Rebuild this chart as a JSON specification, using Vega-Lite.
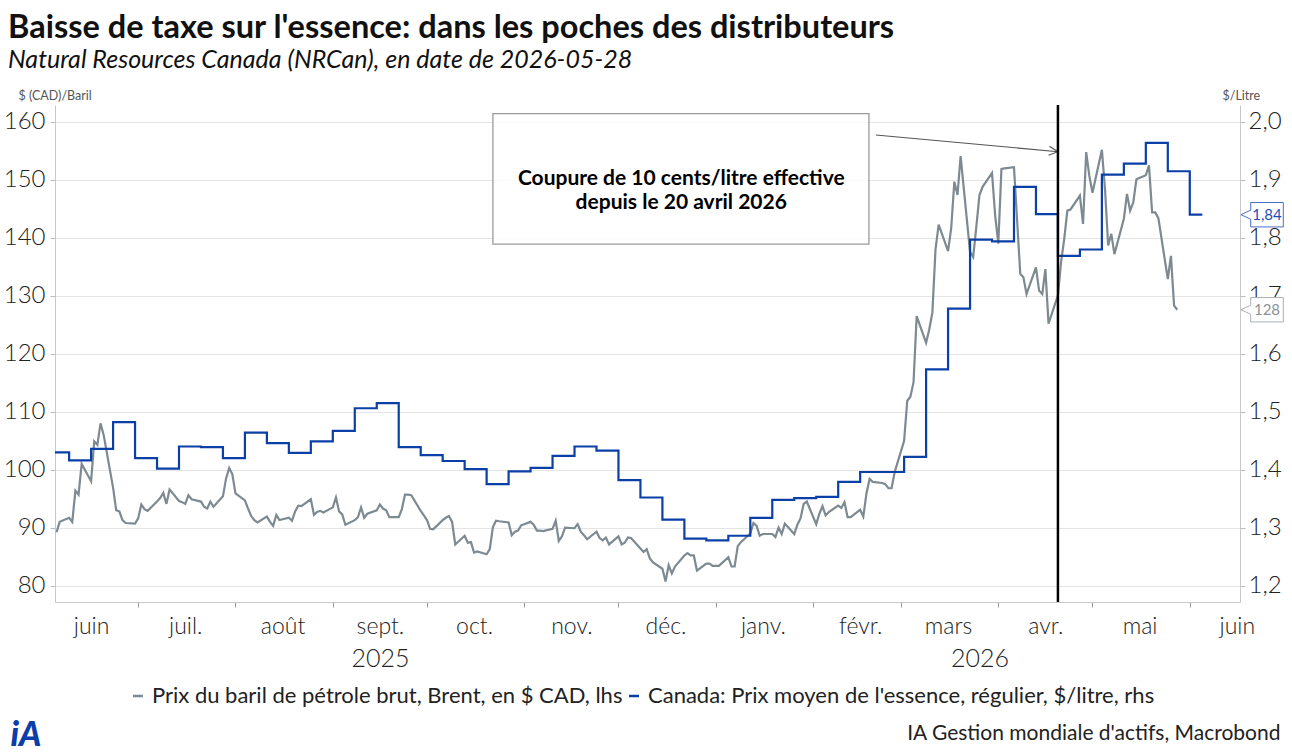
{
  "$schema": "https://vega.github.io/schema/vega-lite/v6.json",
  "width": 1185,
  "height": 497,
  "autosize": {"type": "none"},
  "padding": {"left": 55, "top": 105, "right": 52, "bottom": 153},
  "background": "white",
  "title": {
    "text": "Baisse de taxe sur l'essence: dans les poches des distributeurs",
    "subtitle": "Natural Resources Canada (NRCan), en date de 2026-05-28",
    "anchor": "start",
    "frame": "group",
    "dx": -47,
    "offset": 16,
    "font": "Lato",
    "fontSize": 32.5,
    "fontWeight": "bold",
    "color": "#111111",
    "subtitleFont": "Lato",
    "subtitleFontSize": 25,
    "subtitleFontStyle": "italic",
    "subtitleColor": "#111111",
    "subtitlePadding": 4
  },
  "datasets": {
    "brent": [
      {"date": "2025-06-05", "brent": 89.2}, {"date": "2025-06-06", "brent": 91.0}, {"date": "2025-06-09", "brent": 91.7},
      {"date": "2025-06-10", "brent": 91.0}, {"date": "2025-06-11", "brent": 96.4}, {"date": "2025-06-12", "brent": 95.7},
      {"date": "2025-06-13", "brent": 101.0}, {"date": "2025-06-16", "brent": 98.0}, {"date": "2025-06-17", "brent": 104.9},
      {"date": "2025-06-18", "brent": 104.3}, {"date": "2025-06-19", "brent": 108.0}, {"date": "2025-06-20", "brent": 106.0},
      {"date": "2025-06-23", "brent": 96.9}, {"date": "2025-06-24", "brent": 93.0}, {"date": "2025-06-25", "brent": 92.8},
      {"date": "2025-06-26", "brent": 91.3}, {"date": "2025-06-27", "brent": 90.8}, {"date": "2025-06-30", "brent": 90.7},
      {"date": "2025-07-01", "brent": 91.6}, {"date": "2025-07-02", "brent": 94.0}, {"date": "2025-07-03", "brent": 93.2},
      {"date": "2025-07-04", "brent": 92.9}, {"date": "2025-07-07", "brent": 94.5}, {"date": "2025-07-08", "brent": 95.1},
      {"date": "2025-07-09", "brent": 96.0}, {"date": "2025-07-10", "brent": 94.1}, {"date": "2025-07-11", "brent": 96.6},
      {"date": "2025-07-14", "brent": 94.6}, {"date": "2025-07-15", "brent": 94.4}, {"date": "2025-07-16", "brent": 94.1},
      {"date": "2025-07-17", "brent": 95.6}, {"date": "2025-07-18", "brent": 94.9}, {"date": "2025-07-21", "brent": 94.5},
      {"date": "2025-07-22", "brent": 93.6}, {"date": "2025-07-23", "brent": 93.3}, {"date": "2025-07-24", "brent": 94.5},
      {"date": "2025-07-25", "brent": 93.6}, {"date": "2025-07-28", "brent": 95.4}, {"date": "2025-07-29", "brent": 98.5},
      {"date": "2025-07-30", "brent": 100.3}, {"date": "2025-07-31", "brent": 99.2}, {"date": "2025-08-01", "brent": 95.9},
      {"date": "2025-08-04", "brent": 94.7}, {"date": "2025-08-05", "brent": 93.3}, {"date": "2025-08-06", "brent": 92.0},
      {"date": "2025-08-07", "brent": 91.3}, {"date": "2025-08-08", "brent": 90.9}, {"date": "2025-08-11", "brent": 91.9},
      {"date": "2025-08-12", "brent": 91.0}, {"date": "2025-08-13", "brent": 90.3}, {"date": "2025-08-14", "brent": 92.2},
      {"date": "2025-08-15", "brent": 91.3}, {"date": "2025-08-18", "brent": 91.7}, {"date": "2025-08-19", "brent": 91.2},
      {"date": "2025-08-20", "brent": 92.8}, {"date": "2025-08-21", "brent": 93.8}, {"date": "2025-08-22", "brent": 93.7},
      {"date": "2025-08-25", "brent": 94.9}, {"date": "2025-08-26", "brent": 92.2}, {"date": "2025-08-27", "brent": 92.7},
      {"date": "2025-08-28", "brent": 92.9}, {"date": "2025-08-29", "brent": 92.6}, {"date": "2025-09-01", "brent": 93.5},
      {"date": "2025-09-02", "brent": 95.2}, {"date": "2025-09-03", "brent": 92.8}, {"date": "2025-09-04", "brent": 92.3},
      {"date": "2025-09-05", "brent": 90.5}, {"date": "2025-09-08", "brent": 91.3}, {"date": "2025-09-09", "brent": 91.8},
      {"date": "2025-09-10", "brent": 93.5}, {"date": "2025-09-11", "brent": 91.7}, {"date": "2025-09-12", "brent": 92.4},
      {"date": "2025-09-15", "brent": 93.0}, {"date": "2025-09-16", "brent": 94.0}, {"date": "2025-09-17", "brent": 93.3},
      {"date": "2025-09-18", "brent": 93.0}, {"date": "2025-09-19", "brent": 91.8}, {"date": "2025-09-22", "brent": 91.8},
      {"date": "2025-09-23", "brent": 93.2}, {"date": "2025-09-24", "brent": 95.7}, {"date": "2025-09-25", "brent": 95.7},
      {"date": "2025-09-26", "brent": 95.6}, {"date": "2025-09-29", "brent": 92.9}, {"date": "2025-09-30", "brent": 92.1},
      {"date": "2025-10-01", "brent": 91.3}, {"date": "2025-10-02", "brent": 89.8}, {"date": "2025-10-03", "brent": 89.7},
      {"date": "2025-10-06", "brent": 91.3}, {"date": "2025-10-07", "brent": 91.7}, {"date": "2025-10-08", "brent": 92.0},
      {"date": "2025-10-09", "brent": 91.0}, {"date": "2025-10-10", "brent": 87.1}, {"date": "2025-10-13", "brent": 88.6},
      {"date": "2025-10-14", "brent": 87.4}, {"date": "2025-10-15", "brent": 87.5}, {"date": "2025-10-16", "brent": 85.7},
      {"date": "2025-10-17", "brent": 85.9}, {"date": "2025-10-20", "brent": 85.4}, {"date": "2025-10-21", "brent": 86.3},
      {"date": "2025-10-22", "brent": 90.1}, {"date": "2025-10-23", "brent": 91.2}, {"date": "2025-10-24", "brent": 91.1},
      {"date": "2025-10-27", "brent": 90.9}, {"date": "2025-10-28", "brent": 88.7}, {"date": "2025-10-29", "brent": 89.3},
      {"date": "2025-10-30", "brent": 89.5}, {"date": "2025-10-31", "brent": 90.4}, {"date": "2025-11-03", "brent": 91.0},
      {"date": "2025-11-04", "brent": 90.5}, {"date": "2025-11-05", "brent": 89.5}, {"date": "2025-11-06", "brent": 89.5},
      {"date": "2025-11-07", "brent": 89.4}, {"date": "2025-11-10", "brent": 89.8}, {"date": "2025-11-11", "brent": 91.2},
      {"date": "2025-11-12", "brent": 87.7}, {"date": "2025-11-13", "brent": 88.5}, {"date": "2025-11-14", "brent": 90.0},
      {"date": "2025-11-17", "brent": 89.9}, {"date": "2025-11-18", "brent": 90.6}, {"date": "2025-11-19", "brent": 89.3},
      {"date": "2025-11-20", "brent": 88.7}, {"date": "2025-11-21", "brent": 88.0}, {"date": "2025-11-24", "brent": 89.3},
      {"date": "2025-11-25", "brent": 88.2}, {"date": "2025-11-26", "brent": 87.8}, {"date": "2025-11-27", "brent": 88.3},
      {"date": "2025-11-28", "brent": 87.1}, {"date": "2025-12-01", "brent": 88.5}, {"date": "2025-12-02", "brent": 87.1},
      {"date": "2025-12-03", "brent": 87.4}, {"date": "2025-12-04", "brent": 88.3}, {"date": "2025-12-05", "brent": 88.2},
      {"date": "2025-12-08", "brent": 86.4}, {"date": "2025-12-09", "brent": 85.8}, {"date": "2025-12-10", "brent": 86.3},
      {"date": "2025-12-11", "brent": 84.7}, {"date": "2025-12-12", "brent": 84.0}, {"date": "2025-12-15", "brent": 82.9},
      {"date": "2025-12-16", "brent": 80.7}, {"date": "2025-12-17", "brent": 83.5}, {"date": "2025-12-18", "brent": 82.1},
      {"date": "2025-12-19", "brent": 83.3}, {"date": "2025-12-22", "brent": 85.2}, {"date": "2025-12-23", "brent": 85.6},
      {"date": "2025-12-24", "brent": 85.2}, {"date": "2025-12-25", "brent": 85.2}, {"date": "2025-12-26", "brent": 82.6},
      {"date": "2025-12-29", "brent": 83.8}, {"date": "2025-12-30", "brent": 83.8}, {"date": "2025-12-31", "brent": 83.4},
      {"date": "2026-01-01", "brent": 83.4}, {"date": "2026-01-02", "brent": 83.4}, {"date": "2026-01-05", "brent": 84.9},
      {"date": "2026-01-06", "brent": 83.3}, {"date": "2026-01-07", "brent": 83.3}, {"date": "2026-01-08", "brent": 86.8},
      {"date": "2026-01-09", "brent": 87.5}, {"date": "2026-01-12", "brent": 89.0}, {"date": "2026-01-13", "brent": 90.8},
      {"date": "2026-01-14", "brent": 90.3}, {"date": "2026-01-15", "brent": 88.6}, {"date": "2026-01-16", "brent": 88.9},
      {"date": "2026-01-19", "brent": 88.9}, {"date": "2026-01-20", "brent": 88.4}, {"date": "2026-01-21", "brent": 90.0},
      {"date": "2026-01-22", "brent": 88.9}, {"date": "2026-01-23", "brent": 90.7}, {"date": "2026-01-26", "brent": 88.9},
      {"date": "2026-01-27", "brent": 90.5}, {"date": "2026-01-28", "brent": 91.6}, {"date": "2026-01-29", "brent": 94.1},
      {"date": "2026-01-30", "brent": 94.5}, {"date": "2026-02-02", "brent": 90.6}, {"date": "2026-02-03", "brent": 92.4},
      {"date": "2026-02-04", "brent": 93.7}, {"date": "2026-02-05", "brent": 92.1}, {"date": "2026-02-06", "brent": 92.7},
      {"date": "2026-02-09", "brent": 93.8}, {"date": "2026-02-10", "brent": 93.4}, {"date": "2026-02-11", "brent": 94.4},
      {"date": "2026-02-12", "brent": 91.8}, {"date": "2026-02-13", "brent": 91.8}, {"date": "2026-02-16", "brent": 93.1},
      {"date": "2026-02-17", "brent": 91.9}, {"date": "2026-02-18", "brent": 95.9}, {"date": "2026-02-19", "brent": 98.4},
      {"date": "2026-02-20", "brent": 97.9}, {"date": "2026-02-23", "brent": 97.7}, {"date": "2026-02-24", "brent": 97.5},
      {"date": "2026-02-25", "brent": 96.8}, {"date": "2026-02-26", "brent": 96.8}, {"date": "2026-02-27", "brent": 99.6},
      {"date": "2026-03-02", "brent": 105.0}, {"date": "2026-03-03", "brent": 111.9}, {"date": "2026-03-04", "brent": 112.6},
      {"date": "2026-03-05", "brent": 115.1}, {"date": "2026-03-06", "brent": 126.5}, {"date": "2026-03-09", "brent": 121.9},
      {"date": "2026-03-10", "brent": 124.2}, {"date": "2026-03-11", "brent": 127.1}, {"date": "2026-03-12", "brent": 138.0},
      {"date": "2026-03-13", "brent": 142.3}, {"date": "2026-03-16", "brent": 137.7}, {"date": "2026-03-17", "brent": 141.7},
      {"date": "2026-03-18", "brent": 149.7}, {"date": "2026-03-19", "brent": 147.4}, {"date": "2026-03-20", "brent": 154.1},
      {"date": "2026-03-23", "brent": 137.6}, {"date": "2026-03-24", "brent": 136.7}, {"date": "2026-03-25", "brent": 141.9},
      {"date": "2026-03-26", "brent": 147.4}, {"date": "2026-03-27", "brent": 148.8}, {"date": "2026-03-30", "brent": 151.2},
      {"date": "2026-03-31", "brent": 143.9}, {"date": "2026-04-01", "brent": 139.0}, {"date": "2026-04-02", "brent": 151.9},
      {"date": "2026-04-03", "brent": 152.0}, {"date": "2026-04-06", "brent": 152.2}, {"date": "2026-04-07", "brent": 143.0},
      {"date": "2026-04-08", "brent": 133.8}, {"date": "2026-04-09", "brent": 133.2}, {"date": "2026-04-10", "brent": 130.3},
      {"date": "2026-04-13", "brent": 134.9}, {"date": "2026-04-14", "brent": 130.9}, {"date": "2026-04-15", "brent": 130.3},
      {"date": "2026-04-16", "brent": 134.6}, {"date": "2026-04-17", "brent": 125.2}, {"date": "2026-04-20", "brent": 130.1},
      {"date": "2026-04-21", "brent": 135.8}, {"date": "2026-04-22", "brent": 139.8}, {"date": "2026-04-23", "brent": 144.7},
      {"date": "2026-04-24", "brent": 144.9}, {"date": "2026-04-27", "brent": 147.3}, {"date": "2026-04-28", "brent": 142.4},
      {"date": "2026-04-29", "brent": 154.8}, {"date": "2026-04-30", "brent": 150.7}, {"date": "2026-05-01", "brent": 147.8},
      {"date": "2026-05-04", "brent": 155.2}, {"date": "2026-05-05", "brent": 148.4}, {"date": "2026-05-06", "brent": 138.7},
      {"date": "2026-05-07", "brent": 140.7}, {"date": "2026-05-08", "brent": 137.2}, {"date": "2026-05-11", "brent": 143.3},
      {"date": "2026-05-12", "brent": 147.6}, {"date": "2026-05-13", "brent": 144.7}, {"date": "2026-05-14", "brent": 146.1},
      {"date": "2026-05-15", "brent": 150.1}, {"date": "2026-05-18", "brent": 150.8}, {"date": "2026-05-19", "brent": 152.5},
      {"date": "2026-05-20", "brent": 144.4}, {"date": "2026-05-21", "brent": 144.4}, {"date": "2026-05-22", "brent": 143.4},
      {"date": "2026-05-25", "brent": 132.9}, {"date": "2026-05-26", "brent": 136.9}, {"date": "2026-05-27", "brent": 128.3},
      {"date": "2026-05-28", "brent": 127.6}
    ],
    "essence": [
      {"date": "2025-06-02", "prix": 1.430}, {"date": "2025-06-09", "prix": 1.416}, {"date": "2025-06-16", "prix": 1.436},
      {"date": "2025-06-23", "prix": 1.482}, {"date": "2025-06-30", "prix": 1.420}, {"date": "2025-07-07", "prix": 1.402},
      {"date": "2025-07-14", "prix": 1.440}, {"date": "2025-07-21", "prix": 1.439}, {"date": "2025-07-28", "prix": 1.420},
      {"date": "2025-08-04", "prix": 1.464}, {"date": "2025-08-11", "prix": 1.446}, {"date": "2025-08-18", "prix": 1.429},
      {"date": "2025-08-25", "prix": 1.449}, {"date": "2025-09-01", "prix": 1.467}, {"date": "2025-09-08", "prix": 1.506},
      {"date": "2025-09-15", "prix": 1.515}, {"date": "2025-09-22", "prix": 1.439}, {"date": "2025-09-29", "prix": 1.425},
      {"date": "2025-10-06", "prix": 1.415}, {"date": "2025-10-13", "prix": 1.401}, {"date": "2025-10-20", "prix": 1.375},
      {"date": "2025-10-27", "prix": 1.397}, {"date": "2025-11-03", "prix": 1.403}, {"date": "2025-11-10", "prix": 1.424},
      {"date": "2025-11-17", "prix": 1.440}, {"date": "2025-11-24", "prix": 1.433}, {"date": "2025-12-01", "prix": 1.382},
      {"date": "2025-12-08", "prix": 1.352}, {"date": "2025-12-15", "prix": 1.314}, {"date": "2025-12-22", "prix": 1.281},
      {"date": "2025-12-29", "prix": 1.278}, {"date": "2026-01-05", "prix": 1.286}, {"date": "2026-01-12", "prix": 1.317},
      {"date": "2026-01-19", "prix": 1.348}, {"date": "2026-01-26", "prix": 1.351}, {"date": "2026-02-02", "prix": 1.353},
      {"date": "2026-02-09", "prix": 1.379}, {"date": "2026-02-16", "prix": 1.396}, {"date": "2026-02-23", "prix": 1.396},
      {"date": "2026-03-02", "prix": 1.422}, {"date": "2026-03-09", "prix": 1.573}, {"date": "2026-03-16", "prix": 1.678},
      {"date": "2026-03-23", "prix": 1.797}, {"date": "2026-03-30", "prix": 1.794}, {"date": "2026-04-06", "prix": 1.888},
      {"date": "2026-04-13", "prix": 1.841}, {"date": "2026-04-20", "prix": 1.769}, {"date": "2026-04-27", "prix": 1.780},
      {"date": "2026-05-04", "prix": 1.909}, {"date": "2026-05-11", "prix": 1.928}, {"date": "2026-05-18", "prix": 1.964},
      {"date": "2026-05-25", "prix": 1.915}, {"date": "2026-06-01", "prix": 1.84}, {"date": "2026-06-05", "prix": 1.84}
    ]
  },
  "layer": [
    {
      "layer": [
        {
          "data": {"name": "brent"},
          "mark": {"type": "line", "strokeWidth": 2.2, "clip": true},
          "encoding": {
            "x": {
              "field": "date",
              "type": "temporal",
              "scale": {
                "type": "utc",
                "domain": [
                  {"year": 2025, "month": 6, "date": 4, "hours": 12, "utc": true},
                  {"year": 2026, "month": 6, "date": 17, "utc": true}
                ]
              },
              "axis": {
                "orient": "bottom",
                "values": [
                  {"year": 2025, "month": 6, "date": 16, "utc": true},
                  {"year": 2025, "month": 7, "date": 16, "utc": true},
                  {"year": 2025, "month": 8, "date": 16, "utc": true},
                  {"year": 2025, "month": 9, "date": 16, "utc": true},
                  {"year": 2025, "month": 10, "date": 16, "utc": true},
                  {"year": 2025, "month": 11, "date": 16, "utc": true},
                  {"year": 2025, "month": 12, "date": 16, "utc": true},
                  {"year": 2026, "month": 1, "date": 16, "utc": true},
                  {"year": 2026, "month": 2, "date": 16, "utc": true},
                  {"year": 2026, "month": 3, "date": 16, "utc": true},
                  {"year": 2026, "month": 4, "date": 16, "utc": true},
                  {"year": 2026, "month": 5, "date": 16, "utc": true},
                  {"year": 2026, "month": 6, "date": 16, "utc": true}
                ],
                "format": "%b",
                "labelFontSize": 23,
                "labelFontWeight": 300,
                "labelPadding": 8,
                "labelFlush": false,
                "labelOverlap": false,
                "tickSize": 5,
                "tickOffset": -47.09,
                "labelOffset": 47.09,
                "tickColor": "#999999",
                "tickOpacity": {"condition": {"test": "datum.value < utc(2025, 5, 20)", "value": 0}, "value": 1},
                "domainColor": "#c8c8c8",
                "grid": false,
                "title": "iA",
                "titleFont": "Lato",
                "titleFontSize": 34,
                "titleFontStyle": "italic",
                "titleFontWeight": 900,
                "titleColor": "#0b3ea8",
                "titleAlign": "left",
                "titleBaseline": "alphabetic",
                "titleX": -45,
                "titleY": 143
              }
            },
            "y": {
              "field": "brent",
              "type": "quantitative",
              "scale": {"domain": [77.17, 162.93], "nice": false, "zero": false},
              "axis": {
                "orient": "left",
                "values": [80, 90, 100, 110, 120, 130, 140, 150, 160],
                "format": "d",
                "labelFontSize": 24,
                "labelFontWeight": 300,
                "labelPadding": 5,
                "tickSize": 5,
                "tickColor": "#bbbbbb",
                "domainColor": "#c8c8c8",
                "grid": true,
                "gridColor": "#e4e4e4",
                "title": "$ (CAD)/Baril",
                "titleAngle": 0,
                "titleAlign": "left",
                "titleBaseline": "alphabetic",
                "titleX": -37,
                "titleY": -6,
                "titleFontSize": 12.5,
                "titleFontWeight": "normal",
                "titleColor": "#555555"
              }
            },
            "color": {
              "datum": "Prix du baril de pétrole brut, Brent, en $ CAD, lhs",
              "scale": {
                "domain": [
                  "Prix du baril de pétrole brut, Brent, en $ CAD, lhs",
                  "Canada: Prix moyen de l'essence, régulier, $/litre, rhs"
                ],
                "range": ["#7d8a91", "#0a3fa8"]
              },
              "legend": {
                "title": null,
                "orient": "none",
                "legendX": 72,
                "legendY": 580,
                "direction": "horizontal",
                "symbolType": "stroke",
                "symbolSize": 100,
                "symbolStrokeWidth": 2.5,
                "labelFont": "Lato",
                "labelFontSize": 22,
                "labelColor": "#222222",
                "labelLimit": 800,
                "labelOffset": 3,
                "columnPadding": 0
              }
            }
          }
        },
        {
          "data": {"values": [{}]},
          "mark": {"type": "rect", "fill": "white", "fillOpacity": 0.8, "stroke": "#9a9a9a", "strokeWidth": 1.3},
          "encoding": {
            "x": {"datum": {"year": 2025, "month": 10, "date": 22, "utc": true}, "type": "temporal"},
            "x2": {"datum": {"year": 2026, "month": 2, "date": 18, "hours": 19, "utc": true}},
            "y": {"datum": 161.43, "type": "quantitative"},
            "y2": {"datum": 138.94}
          }
        },
        {
          "data": {"values": [{}]},
          "mark": {
            "type": "text",
            "text": ["Coupure de 10 cents/litre effective", "depuis le 20 avril 2026"],
            "font": "Lato",
            "fontSize": 21,
            "fontWeight": "bold",
            "color": "#000000",
            "align": "center",
            "baseline": "middle",
            "lineHeight": 24
          },
          "encoding": {
            "x": {"datum": {"year": 2025, "month": 12, "date": 21, "utc": true}, "type": "temporal"},
            "y": {"datum": 150.21, "type": "quantitative"}
          }
        },
        {
          "data": {"values": [{}]},
          "mark": {"type": "rule", "color": "#555555", "strokeWidth": 1.1},
          "encoding": {
            "x": {"datum": {"year": 2026, "month": 2, "date": 21, "utc": true}, "type": "temporal"},
            "x2": {"datum": {"year": 2026, "month": 4, "date": 20, "utc": true}},
            "y": {"datum": 157.75, "type": "quantitative"},
            "y2": {"datum": 154.87}
          }
        },
        {
          "data": {"values": [{}]},
          "mark": {
            "type": "point",
            "shape": "M-1,-0.5L0,0L-1,0.5",
            "size": 324,
            "filled": false,
            "stroke": "#555555",
            "strokeWidth": 1.1,
            "angle": 5.7,
            "opacity": 1
          },
          "encoding": {
            "x": {"datum": {"year": 2026, "month": 4, "date": 20, "utc": true}, "type": "temporal"},
            "y": {"datum": 154.87, "type": "quantitative"}
          }
        },
        {
          "data": {"name": "brent"},
          "transform": [
            {"window": [{"op": "row_number", "as": "rang"}], "sort": [{"field": "date", "order": "descending"}]},
            {"filter": "datum.rang === 1"}
          ],
          "layer": [
            {
              "mark": {
                "type": "point",
                "shape": "M0,0L0.459,-0.213L0.459,-0.577L2,-0.577L2,0.577L0.459,0.577L0.459,0.213Z",
                "size": 1789,
                "filled": true,
                "fill": "white",
                "fillOpacity": 1,
                "stroke": "#a9b0b4",
                "strokeWidth": 1,
                "opacity": 1,
                "xOffset": 1
              },
              "encoding": {
                "x": {"datum": {"year": 2026, "month": 6, "date": 17, "utc": true}, "type": "temporal"},
                "y": {"field": "brent", "type": "quantitative"}
              }
            },
            {
              "mark": {"type": "text", "dx": 27, "align": "center", "baseline": "middle", "font": "Lato", "fontSize": 15, "color": "#8a9398"},
              "encoding": {
                "x": {"datum": {"year": 2026, "month": 6, "date": 17, "utc": true}, "type": "temporal"},
                "y": {"field": "brent", "type": "quantitative"},
                "text": {"field": "brent", "type": "quantitative", "format": ".0f"}
              }
            }
          ]
        }
      ]
    },
    {
      "layer": [
        {
          "data": {"name": "essence"},
          "mark": {"type": "line", "interpolate": "step-after", "strokeWidth": 2.2, "clip": true},
          "encoding": {
            "x": {
              "field": "date",
              "type": "temporal",
              "axis": {
                "orient": "bottom",
                "values": [
                  {"year": 2025, "month": 9, "date": 16, "utc": true},
                  {"year": 2026, "month": 3, "date": 26, "utc": true}
                ],
                "format": "%Y",
                "labelFontSize": 25,
                "labelFontWeight": 300,
                "labelPadding": 44,
                "ticks": false,
                "tickSize": 0,
                "domain": false,
                "grid": false,
                "labelFlush": false,
                "labelOverlap": false,
                "title": "IA Gestion mondiale d'actifs, Macrobond",
                "titleFont": "Lato",
                "titleFontSize": 21,
                "titleFontWeight": "normal",
                "titleColor": "#222222",
                "titleAlign": "right",
                "titleBaseline": "alphabetic",
                "titleX": 1225,
                "titleY": 137
              }
            },
            "y": {
              "field": "prix",
              "type": "quantitative",
              "scale": {"domain": [1.1717, 2.0293], "nice": false, "zero": false},
              "axis": {
                "orient": "right",
                "values": [1.2, 1.3, 1.4, 1.5, 1.6, 1.7, 1.8, 1.9, 2.0],
                "format": ".1f",
                "labelFontSize": 24,
                "labelFontWeight": 300,
                "labelPadding": 3,
                "tickSize": 5,
                "tickColor": "#bbbbbb",
                "domainColor": "#c8c8c8",
                "grid": false,
                "title": "$/Litre",
                "titleAngle": 0,
                "titleAlign": "left",
                "titleBaseline": "alphabetic",
                "titleX": -18,
                "titleY": -6,
                "titleFontSize": 12.5,
                "titleFontWeight": "normal",
                "titleColor": "#555555"
              }
            },
            "color": {"datum": "Canada: Prix moyen de l'essence, régulier, $/litre, rhs"}
          }
        },
        {
          "data": {"values": [{}]},
          "mark": {"type": "rule", "color": "#000000", "strokeWidth": 2.5},
          "encoding": {
            "x": {"datum": {"year": 2026, "month": 4, "date": 20, "utc": true}, "type": "temporal"}
          }
        },
        {
          "data": {"name": "essence"},
          "transform": [
            {"window": [{"op": "row_number", "as": "rang"}], "sort": [{"field": "date", "order": "descending"}]},
            {"filter": "datum.rang === 1"}
          ],
          "layer": [
            {
              "mark": {
                "type": "point",
                "shape": "M0,0L0.459,-0.213L0.459,-0.577L2,-0.577L2,0.577L0.459,0.577L0.459,0.213Z",
                "size": 1789,
                "filled": true,
                "fill": "white",
                "fillOpacity": 1,
                "stroke": "#4a6fc6",
                "strokeWidth": 1,
                "opacity": 1,
                "xOffset": 1
              },
              "encoding": {
                "x": {"datum": {"year": 2026, "month": 6, "date": 17, "utc": true}, "type": "temporal"},
                "y": {"field": "prix", "type": "quantitative"}
              }
            },
            {
              "mark": {"type": "text", "dx": 27, "align": "center", "baseline": "middle", "font": "Lato", "fontSize": 15, "color": "#1d4fb8"},
              "encoding": {
                "x": {"datum": {"year": 2026, "month": 6, "date": 17, "utc": true}, "type": "temporal"},
                "y": {"field": "prix", "type": "quantitative"},
                "text": {"field": "prix", "type": "quantitative", "format": ".2f"}
              }
            }
          ]
        }
      ]
    }
  ],
  "resolve": {
    "scale": {"y": "independent"},
    "axis": {"x": "independent", "y": "independent"}
  },
  "config": {
    "font": "Lato",
    "view": {"stroke": null},
    "axis": {"labelFont": "Lato", "titleFont": "Lato", "labelColor": "#222222"},
    "locale": {
      "number": {"decimal": ",", "thousands": " ", "grouping": [3], "currency": ["", " $"]},
      "time": {
        "dateTime": "%A %e %B %Y à %X",
        "date": "%d/%m/%Y",
        "time": "%H:%M:%S",
        "periods": ["AM", "PM"],
        "days": ["dimanche", "lundi", "mardi", "mercredi", "jeudi", "vendredi", "samedi"],
        "shortDays": ["dim.", "lun.", "mar.", "mer.", "jeu.", "ven.", "sam."],
        "months": ["janvier", "février", "mars", "avril", "mai", "juin", "juillet", "août", "septembre", "octobre", "novembre", "décembre"],
        "shortMonths": ["janv.", "févr.", "mars", "avr.", "mai", "juin", "juil.", "août", "sept.", "oct.", "nov.", "déc."]
      }
    }
  }
}
